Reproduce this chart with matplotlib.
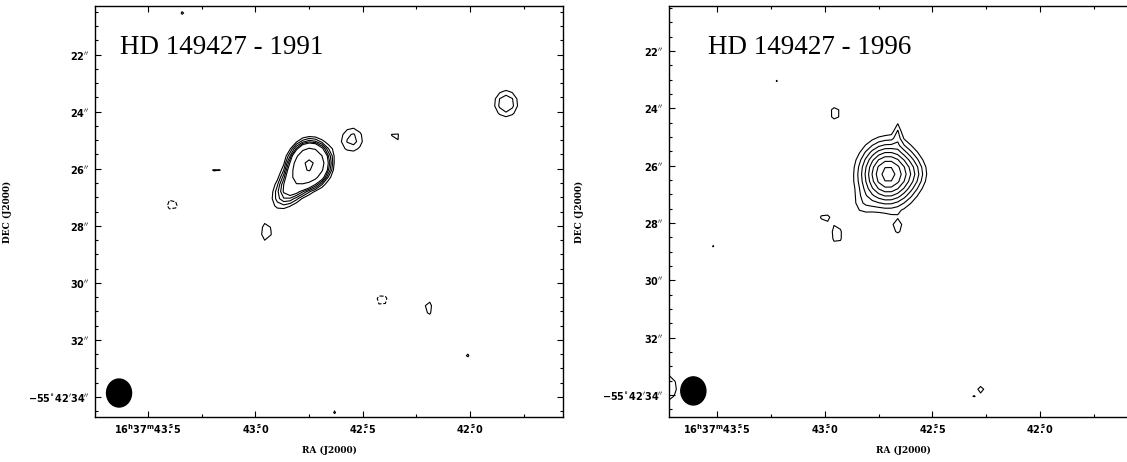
import numpy as np
import matplotlib
matplotlib.use("Agg")
import matplotlib.pyplot as plt
from matplotlib.patches import Ellipse
from matplotlib.ticker import FixedLocator, FixedFormatter, MultipleLocator

plt.rcParams["mathtext.fontset"] = "dejavusans"

# --- map geometry (RA seconds of 16h37m, Dec arcsec of -55d42m) ---
DEC_DEG = -55.71
PIX_ARCSEC = 0.25

# Gaussian source components: RA [s], Dec ["], peak [sigma units],
# major/minor widths ["], orientation [deg, from east towards south]
ra_1991 = [42.745, 42.822, 43.337, 42.964, 43.150, 43.183, 43.388, 42.950,
           42.549, 42.349, 41.832, 42.410, 42.195, 42.014, 42.629]
dec_1991 = [25.82, 26.52, 20.53, 20.91, 24.88, 26.10, 27.26, 28.25,
            24.98, 24.91, 23.72, 30.60, 30.88, 32.53, 34.49]
peak_1991 = [22.0, 9.0, 3.2, 3.2, 3.2, 3.45, -3.6, 3.8,
             4.5, 3.4, 5.05, -3.6, 3.5, 3.2, 3.2]
smaj_1991 = [0.456, 0.72, 0.3, 0.3, 0.3, 0.4, 0.35, 0.4,
             0.45, 0.35, 0.45, 0.35, 0.45, 0.3, 0.3]
smin_1991 = [0.456, 0.38, 0.3, 0.3, 0.3, 0.15, 0.35, 0.28,
             0.45, 0.35, 0.45, 0.35, 0.3, 0.3, 0.3]
pa_1991 = [0, 47, 0, 0, 0, 0, 0, 90, 0, 0, 0, 0, 90, 0, 0]
levels_1991 = [-3, 3, 4, 5, 6, 7, 12, 23.5]

ra_1996 = [42.706, 42.567, 42.836, 42.660, 42.896, 43.221, 42.952, 43.003,
           42.943, 42.660, 43.509, 42.800, 43.745, 42.274, 42.325]
dec_1996 = [26.30, 26.25, 27.45, 24.73, 26.58, 23.01, 24.17, 27.80,
            28.43, 28.19, 28.89, 20.64, 33.75, 33.82, 34.13]
peak_1996 = [10.5, 1.2, 1.6, 2.2, 1.25, 3.1, 3.6, 3.5,
             3.9, 3.1, 3.3, 3.1, 3.8, 3.5, 3.1]
smaj_1996 = [0.85, 0.4, 0.35, 0.35, 0.1, 0.3, 0.35, 0.25,
             0.4, 0.24, 0.3, 0.3, 0.7, 0.28, 0.15]
smin_1996 = [0.85, 0.4, 0.35, 0.12, 0.1, 0.3, 0.35, 0.25,
             0.25, 0.24, 0.3, 0.3, 0.7, 0.28, 0.15]
pa_1996 = [0, 0, 0, 90, 0, 0, 0, 0, 90, 0, 0, 0, 0, 0, 0]
levels_1996 = [-3, 3, 4, 5, 6, 7, 8, 9, 10]

# restoring beam (RA width in s, Dec height in ")
beam_ra = [43.635, 43.610]
beam_dec = [33.86, 33.86]
beam_w = 0.1165
beam_h = 0.98

titles = ["HD 149427 - 1991", "HD 149427 - 1996"]

ra_ticks = [43.5, 43.0, 42.5, 42.0]
ra_labels = [r"$\mathbf{16^{h}37^{m}43\overset{s}{.}5}$",
             r"$\mathbf{43\overset{s}{.}0}$",
             r"$\mathbf{42\overset{s}{.}5}$",
             r"$\mathbf{42\overset{s}{.}0}$"]
dec_ticks = [22, 24, 26, 28, 30, 32, 34]
dec_labels = [r"$\mathbf{22^{\prime\prime}}$", r"$\mathbf{24^{\prime\prime}}$",
              r"$\mathbf{26^{\prime\prime}}$", r"$\mathbf{28^{\prime\prime}}$",
              r"$\mathbf{30^{\prime\prime}}$", r"$\mathbf{32^{\prime\prime}}$",
              r"$\mathbf{-55^{\circ}42^{\prime}34^{\prime\prime}}$"]


def model_map(ra, dec, peak, smaj, smin, pa):
    cosd = np.cos(np.radians(DEC_DEG))
    step_ra = PIX_ARCSEC / (15 * cosd)
    ra_g = np.arange(41.30, 44.00, step_ra)
    dec_g = np.arange(19.80, 35.40, PIX_ARCSEC)
    RA, DEC = np.meshgrid(ra_g, dec_g)
    Z = np.zeros_like(RA)
    for r0, d0, p, a, b, t in zip(ra, dec, peak, smaj, smin, pa):
        du = (RA - r0) * 15 * cosd
        dv = DEC - d0
        th = np.radians(t)
        u = du * np.cos(th) + dv * np.sin(th)
        v = -du * np.sin(th) + dv * np.cos(th)
        Z += p * np.exp(-(u ** 2 / (2 * a ** 2) + v ** 2 / (2 * b ** 2)))
    return RA, DEC, Z


fig = plt.figure(figsize=(11.27, 4.62), dpi=100)
W, H = 1127.0, 462.0
panels = [
    dict(box=(95, 6, 468, 411), xlim=(43.747, 41.567), ylim=(34.70, 20.30),
         comps=(ra_1991, dec_1991, peak_1991, smaj_1991, smin_1991, pa_1991),
         levels=levels_1991, title_x=0.054, ylab_x=-0.177),
    dict(box=(669, 6, 468, 411), xlim=(43.723, 41.550), ylim=(34.77, 20.43),
         comps=(ra_1996, dec_1996, peak_1996, smaj_1996, smin_1996, pa_1996),
         levels=levels_1996, title_x=0.084, ylab_x=-0.182),
]

for i, p in enumerate(panels):
    x0, y0, w, h = p["box"]
    ax = fig.add_axes([x0 / W, 1 - (y0 + h) / H, w / W, h / H])
    RA, DEC, Z = model_map(*p["comps"])
    ax.contour(RA, DEC, Z, levels=p["levels"], colors="k", linewidths=0.8,
               negative_linestyles="dashed")
    ax.add_patch(Ellipse((beam_ra[i], beam_dec[i]), beam_w, beam_h,
                         facecolor="black", edgecolor="black", zorder=5))
    ax.set_xlim(*p["xlim"])
    ax.set_ylim(*p["ylim"])

    ax.xaxis.set_major_locator(FixedLocator(ra_ticks))
    ax.xaxis.set_major_formatter(FixedFormatter(ra_labels))
    ax.xaxis.set_minor_locator(MultipleLocator(0.25))
    ax.yaxis.set_major_locator(FixedLocator(dec_ticks))
    ax.yaxis.set_major_formatter(FixedFormatter(dec_labels))
    ax.yaxis.set_minor_locator(MultipleLocator(0.5))
    ax.tick_params(which="both", direction="in", top=True, right=True,
                   labelsize=7, pad=4, width=0.8)
    ax.tick_params(which="major", length=4)
    ax.tick_params(which="minor", length=2)
    for s in ax.spines.values():
        s.set_linewidth(1.0)

    ax.set_xlabel("RA (J2000)", fontsize=6.5, fontweight="bold",
                  family="DejaVu Serif", labelpad=7)
    ax.set_ylabel("DEC (J2000)", fontsize=6.5, fontweight="bold",
                  family="DejaVu Serif")
    ax.yaxis.set_label_coords(p["ylab_x"], 0.5)
    ax.text(p["title_x"], 0.883, titles[i], transform=ax.transAxes,
            fontsize=19.5, family="Liberation Serif", va="baseline", ha="left")

fig.savefig("out.png", dpi=100)
